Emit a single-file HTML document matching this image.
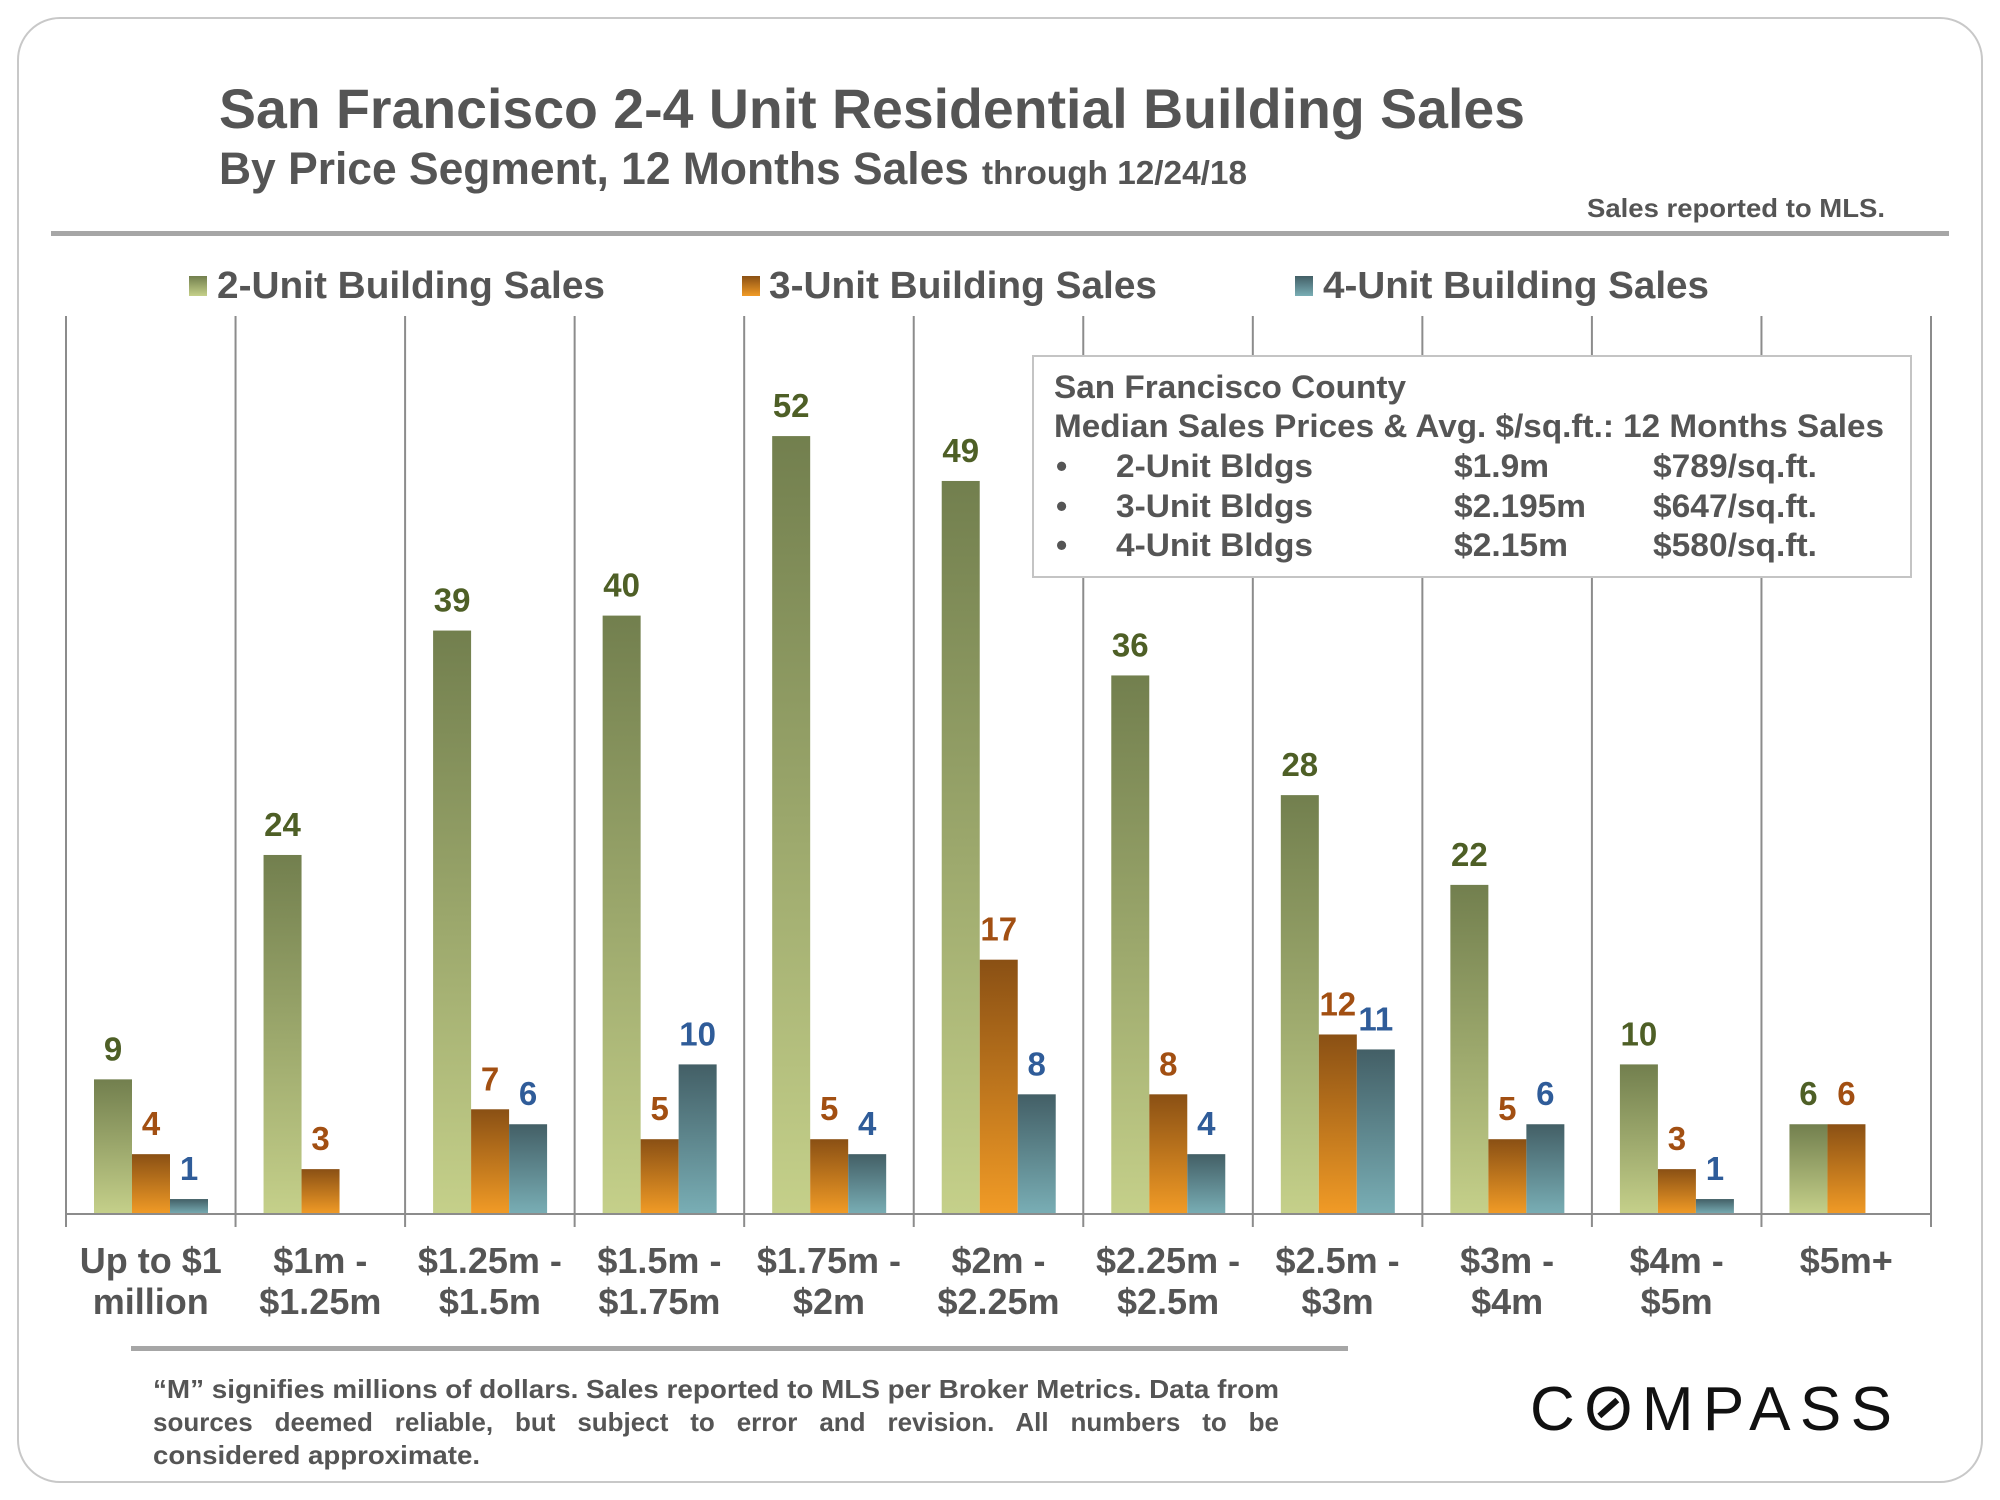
<!DOCTYPE html>
<html><head><meta charset="utf-8"><style>
html,body{margin:0;padding:0;background:#fff}
svg{display:block}
text{font-family:"Liberation Sans",Arial,sans-serif;font-weight:bold}
</style></head><body>
<svg id="c" width="2000" height="1500" viewBox="0 0 2000 1500" xmlns="http://www.w3.org/2000/svg">
<defs>
<linearGradient id="gG" x1="0" y1="0" x2="0" y2="1"><stop offset="0" stop-color="#727f4e"/><stop offset="1" stop-color="#c5d08a"/></linearGradient>
<linearGradient id="gO" x1="0" y1="0" x2="0" y2="1"><stop offset="0" stop-color="#8a5014"/><stop offset="1" stop-color="#f19b26"/></linearGradient>
<linearGradient id="gT" x1="0" y1="0" x2="0" y2="1"><stop offset="0" stop-color="#435f66"/><stop offset="1" stop-color="#79aeb5"/></linearGradient>
</defs>
<rect x="18" y="18" width="1964" height="1464" rx="42" fill="#fff" stroke="#c8c8c8" stroke-width="2"/>
<text x="219" y="128" font-size="56" fill="#555" textLength="1306" lengthAdjust="spacingAndGlyphs">San Francisco 2-4 Unit Residential Building Sales</text>
<text x="219" y="184" font-size="45" fill="#555" textLength="750" lengthAdjust="spacingAndGlyphs">By Price Segment, 12 Months Sales</text>
<text x="982" y="184" font-size="33" fill="#555" textLength="265" lengthAdjust="spacingAndGlyphs">through 12/24/18</text>
<text x="1885" y="217" font-size="26" fill="#555" text-anchor="end" textLength="298" lengthAdjust="spacingAndGlyphs">Sales reported to MLS.</text>
<rect x="51" y="231" width="1898" height="5" fill="#a6a6a6"/>
<g>
<rect x="189" y="276" width="18" height="20" fill="url(#gG)"/>
<text x="217" y="298" font-size="38" fill="#555" textLength="388" lengthAdjust="spacingAndGlyphs">2-Unit Building Sales</text>
<rect x="742" y="276" width="18" height="20" fill="url(#gO)"/>
<text x="769" y="298" font-size="38" fill="#555" textLength="388" lengthAdjust="spacingAndGlyphs">3-Unit Building Sales</text>
<rect x="1295" y="276" width="18" height="20" fill="url(#gT)"/>
<text x="1323" y="298" font-size="38" fill="#555" textLength="386" lengthAdjust="spacingAndGlyphs">4-Unit Building Sales</text>
</g>
<g id="grid"></g>
<g id="bars"></g>
<g id="xlabels"></g>
<line x1="66" y1="1214" x2="1931" y2="1214" stroke="#8c8c8c" stroke-width="2"/>
<g>
<rect x="1033" y="356" width="878" height="221" fill="#fff" stroke="#c4c4c4" stroke-width="2"/>
<g font-size="32" fill="#555">
<text x="1054" y="398" textLength="352" lengthAdjust="spacingAndGlyphs">San Francisco County</text>
<text x="1054" y="437" textLength="830" lengthAdjust="spacingAndGlyphs">Median Sales Prices &amp; Avg. $/sq.ft.: 12 Months Sales</text>
<text x="1056" y="477">•</text>
<text x="1116" y="477" textLength="197" lengthAdjust="spacingAndGlyphs">2-Unit Bldgs</text>
<text x="1454" y="477" textLength="95" lengthAdjust="spacingAndGlyphs">$1.9m</text>
<text x="1653" y="477" textLength="164" lengthAdjust="spacingAndGlyphs">$789/sq.ft.</text>
<text x="1056" y="517">•</text>
<text x="1116" y="517" textLength="197" lengthAdjust="spacingAndGlyphs">3-Unit Bldgs</text>
<text x="1454" y="517" textLength="132" lengthAdjust="spacingAndGlyphs">$2.195m</text>
<text x="1653" y="517" textLength="164" lengthAdjust="spacingAndGlyphs">$647/sq.ft.</text>
<text x="1056" y="556">•</text>
<text x="1116" y="556" textLength="197" lengthAdjust="spacingAndGlyphs">4-Unit Bldgs</text>
<text x="1454" y="556" textLength="114" lengthAdjust="spacingAndGlyphs">$2.15m</text>
<text x="1653" y="556" textLength="164" lengthAdjust="spacingAndGlyphs">$580/sq.ft.</text>
</g>
</g>
<rect x="131" y="1346" width="1217" height="5" fill="#a6a6a6"/>
<g font-size="26" fill="#555">
<text x="153" y="1398" textLength="1126" lengthAdjust="spacingAndGlyphs">“M” signifies millions of dollars. Sales reported to MLS per Broker Metrics. Data from</text>
<text id="fn2" x="153" y="1431">sources deemed reliable, but subject to error and revision. All numbers to be</text>
<text x="153" y="1464" textLength="327" lengthAdjust="spacingAndGlyphs">considered approximate.</text>
</g>
<g id="logo">
<text id="logoText" x="1530" y="1430" font-size="62" fill="#111" style="font-weight:normal" textLength="362" lengthAdjust="spacing">COMPASS</text>
</g>
</svg>
<script>
const categories1 = ["Up to $1","$1m -","$1.25m -","$1.5m -","$1.75m -","$2m -","$2.25m -","$2.5m -","$3m -","$4m -","$5m+"];
const categories2 = ["million","$1.25m","$1.5m","$1.75m","$2m","$2.25m","$2.5m","$3m","$4m","$5m",""];
const units2 = [9,24,39,40,52,49,36,28,22,10,6];
const units3 = [4,3,7,5,5,17,8,12,5,3,6];
const units4 = [1,null,6,10,4,8,4,11,6,1,null];
const NS = "http://www.w3.org/2000/svg";
const x0 = 66, x1 = 1931, baseY = 1214, pxPerUnit = 14.96;
const catW = (x1 - x0) / categories1.length;
const barW = 38, groupOff = 28;
function yScale(v){ return baseY - v * pxPerUnit; }
function catX(i){ return x0 + i * catW; }
function mk(tag, attrs, parent){ const e = document.createElementNS(NS, tag); for (const k in attrs) e.setAttribute(k, attrs[k]); parent.appendChild(e); return e; }
const grid = document.getElementById('grid');
for (let i = 0; i <= categories1.length; i++) {
  const l = mk('line', {x1: catX(i), x2: catX(i), y1: 316, y2: 1227, stroke: '#8c8c8c', 'stroke-width': 2}, grid);
  
  
}
const bars = document.getElementById('bars');
const series = [[units2,'url(#gG)','#4e5f26','2-unit'],[units3,'url(#gO)','#a24f12','3-unit'],[units4,'url(#gT)','#2f5c99','4-unit']];
series.forEach((s, si) => {
  s[0].forEach((v, i) => {
    if (v === null || v === undefined) return;
    const bx = catX(i) + groupOff + si * barW;
    const r = mk('rect', {x: bx, y: yScale(v), width: barW, height: v * pxPerUnit, fill: s[1]}, bars);
    
    
    const t = mk('text', {x: bx + barW/2, y: yScale(v) - 19, 'font-size': 33, fill: s[2], 'text-anchor': 'middle'}, bars);
    t.textContent = v;
    
    
  });
});
const xl = document.getElementById('xlabels');
categories1.forEach((c, i) => {
  const cx = catX(i) + catW/2;
  const t1 = mk('text', {x: cx, y: 1273, 'font-size': 36, fill: '#555', 'text-anchor': 'middle'}, xl);
  t1.textContent = c;
  
  
  if (categories2[i]) {
    const t2 = mk('text', {x: cx, y: 1314, 'font-size': 36, fill: '#555', 'text-anchor': 'middle'}, xl);
    t2.textContent = categories2[i];
    
    
  }
});
// justify footnote line 2 with word spacing
try {
  const fn2 = document.getElementById('fn2');
  const len = fn2.getComputedTextLength();
  const gaps = fn2.textContent.split(' ').length - 1;
  fn2.setAttribute('word-spacing', Math.max(0, (1126 - len) / gaps));
} catch(e) {}
// slash inside the O of the logo
try {
  const lt = document.getElementById('logoText');
  const s = lt.getStartPositionOfChar(1), e = lt.getEndPositionOfChar(1);
  const cx = (s.x + e.x) / 2, cy = 1408;
  const sl = mk('line', {x1: cx - 9, y1: cy + 8, x2: cx + 9, y2: cy - 8, stroke: '#111', 'stroke-width': 6}, document.getElementById('logo'));
  
  
} catch(e) {}
</script>
</body></html>
